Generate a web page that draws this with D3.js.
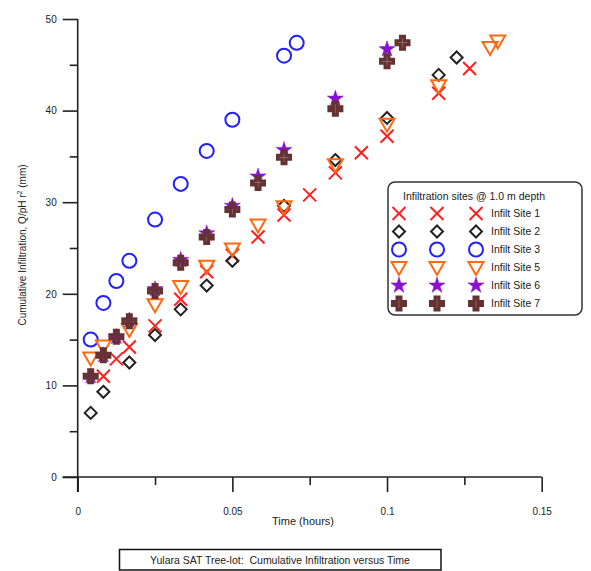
<!DOCTYPE html>
<html><head><meta charset="utf-8">
<script src="https://cdn.jsdelivr.net/npm/d3@7"></script>
<style>body{margin:0;background:#fff}svg{display:block;font-family:"Liberation Sans",Arial,sans-serif}text{white-space:pre}</style>
</head><body><svg id="c" width="591" height="571"></svg>
<script>
const xTicks = [0, 0.05, 0.1, 0.15];
const xMinor = [0.025, 0.075, 0.125];
const yTicks = [0, 10, 20, 30, 40, 50];
const yMinor = [5, 15, 25, 35, 45];
const xTitle = "Time (hours)";
const caption = "Yulara SAT Tree-lot:  Cumulative Infiltration versus Time";
const legendTitle = "Infiltration sites @ 1.0 m depth";

const site1T = [0.0083,0.0125,0.0167,0.025,0.0333,0.0417,0.05,0.0583,0.0667,0.075,0.0833,0.0917,0.1,0.1167,0.1267];
const site1V = [11.0,12.9,14.2,16.5,19.4,22.4,24.2,26.2,28.6,30.8,33.2,35.4,37.2,41.9,44.6];
const site2T = [0.0042,0.0083,0.0167,0.025,0.0333,0.0417,0.05,0.0667,0.0833,0.1,0.1167,0.1225];
const site2V = [7.0,9.3,12.5,15.5,18.3,20.9,23.6,29.6,34.6,39.2,43.9,45.8];
const site3T = [0.0042,0.0083,0.0125,0.0167,0.025,0.0333,0.0417,0.05,0.0667,0.0708];
const site3V = [15.0,19.0,21.4,23.6,28.1,32.0,35.6,39.0,46.0,47.4];
const site5T = [0.0042,0.0083,0.0167,0.025,0.0333,0.0417,0.05,0.0583,0.0667,0.0833,0.1,0.1167,0.1333,0.1358];
const site5V = [13.0,14.3,16.1,18.8,20.8,23.0,24.9,27.5,29.5,34.1,38.5,42.7,46.9,47.6];
const site6T = [0.0042,0.0083,0.0125,0.0167,0.025,0.0333,0.0417,0.05,0.0583,0.0667,0.0833,0.1];
const site6V = [11.0,13.3,15.3,17.1,20.5,23.7,26.6,29.6,32.8,35.7,41.3,46.7];
const site7T = [0.0042,0.0083,0.0125,0.0167,0.025,0.0333,0.0417,0.05,0.0583,0.0667,0.0833,0.1,0.105];
const site7V = [11.0,13.3,15.3,17.0,20.3,23.4,26.2,29.2,32.1,34.9,40.2,45.4,47.4];

const seriesNames = ["Infilt Site 1","Infilt Site 2","Infilt Site 3","Infilt Site 5","Infilt Site 6","Infilt Site 7"];

const mk = {
  x: () => "M-6.5,-6.5L6.5,6.5M6.5,-6.5L-6.5,6.5",
  diamond: () => "M0,-6L6,0L0,6L-6,0Z",
  circle: () => "M7,0A7,7 0 1,1 -7,0A7,7 0 1,1 7,0Z",
  tri: () => "M-7.5,-5.5L7.5,-5.5L0,7.5Z",
  star: () => d3.symbol(d3.symbolStar, 80)(),
  cross: () => "M-1.8,-6.3L1.8,-6.3L1.8,-1.8L6.3,-1.8L6.3,1.8L1.8,1.8L1.8,6.3L-1.8,6.3L-1.8,1.8L-6.3,1.8L-6.3,-1.8L-1.8,-1.8Z"
};
const styles = [
  {p: mk.x, fill: "none", stroke: "#ff1f1f", sw: 2},
  {p: mk.diamond, fill: "none", stroke: "#222", sw: 2},
  {p: mk.circle, fill: "none", stroke: "#2020ff", sw: 2},
  {p: mk.tri, fill: "none", stroke: "#ff6a10", sw: 2},
  {p: mk.star, fill: "#8a10d0", stroke: "#8a10d0", sw: 0.5},
  {p: mk.cross, fill: "none", stroke: "#653232", sw: 3.4}
];
const series = [[site1T,site1V],[site2T,site2V],[site3T,site3V],[site5T,site5V],[site6T,site6V],[site7T,site7V]];

const svg = d3.select("#c");
const x = d3.scaleLinear().domain([0, 0.15]).range([77.7, 541.7]);
const y = d3.scaleLinear().domain([0, 50]).range([477, 19]);
const txt = "#222";

const gy = svg.append("g").attr("transform", `translate(${x(0)},0)`);
gy.call(d3.axisLeft(y).tickValues(yTicks).tickSize(15).tickSizeOuter(0).tickPadding(6).tickFormat(d3.format("d")));
gy.append("g").call(d3.axisLeft(y).tickValues(yMinor).tickSize(8).tickFormat(""));
gy.selectAll(".domain").remove();
gy.append("line").attr("x1",0).attr("x2",0).attr("y1",y(50)).attr("y2",y(0)+15);
const gx = svg.append("g").attr("transform", `translate(0,${y(0)})`);
gx.call(d3.axisBottom(x).tickValues(xTicks).tickSize(15).tickSizeOuter(0).tickPadding(16).tickFormat(d => d === 0 ? "0" : String(d)));
gx.append("g").call(d3.axisBottom(x).tickValues(xMinor).tickSize(8).tickFormat(""));
gx.selectAll(".domain").remove();
gx.append("line").attr("x1",x(0)-15).attr("x2",x(0.15)).attr("y1",0).attr("y2",0);
svg.selectAll(".tick line, g > line").attr("stroke", "#222").attr("stroke-width", 1.6);
svg.selectAll(".tick text").attr("font-size", 10).attr("fill", txt).attr("font-family", "Liberation Sans, Arial, sans-serif");

svg.append("text").attr("x", 303).attr("y", 525).attr("text-anchor","middle").attr("font-size",11).attr("fill",txt).text(xTitle);
const yt = svg.append("text").attr("transform","translate(26,245) rotate(-90)").attr("text-anchor","middle").attr("font-size",10).attr("fill",txt);
yt.append("tspan").text("Cumulative Infiltration, Q/pH r");
yt.append("tspan").attr("font-size",7).attr("dy",-4).text("2");
yt.append("tspan").attr("dy",4).text(" (mm)");

series.forEach((s, i) => {
  const st = styles[i];
  const data = s[0].map((t, j) => [t, s[1][j]]);
  svg.append("g").selectAll("path").data(data).join("path")
    .attr("d", st.p())
    .attr("transform", d => `translate(${x(d[0])},${y(d[1])})`)
    .attr("fill", st.fill).attr("stroke", st.stroke).attr("stroke-width", st.sw);
});

const lg = svg.append("g");
lg.append("rect").attr("x",388).attr("y",182).attr("width",194).attr("height",133).attr("rx",7)
  .attr("fill","#fff").attr("stroke","#333").attr("stroke-width",1.5);
lg.append("text").attr("x",403).attr("y",200).attr("font-size",10.5).attr("fill",txt).text(legendTitle);
seriesNames.forEach((n, i) => {
  const st = styles[i];
  const yy = 213.5 + i * 18;
  [399, 437, 476].forEach(xx => {
    lg.append("path").attr("d", st.p()).attr("transform", `translate(${xx},${yy})`)
      .attr("fill", st.fill).attr("stroke", st.stroke).attr("stroke-width", st.sw);
  });
  lg.append("text").attr("x",491).attr("y",yy+3.5).attr("font-size",10.5).attr("fill",txt).text(n);
});

svg.append("rect").attr("x",119.5).attr("y",549.5).attr("width",321.5).attr("height",20.5)
  .attr("fill","#fff").attr("stroke","#111").attr("stroke-width",1.5);
svg.append("text").attr("x",280).attr("y",563.5).attr("text-anchor","middle").attr("font-size",10.5).attr("fill",txt).text(caption);
</script></body></html>
